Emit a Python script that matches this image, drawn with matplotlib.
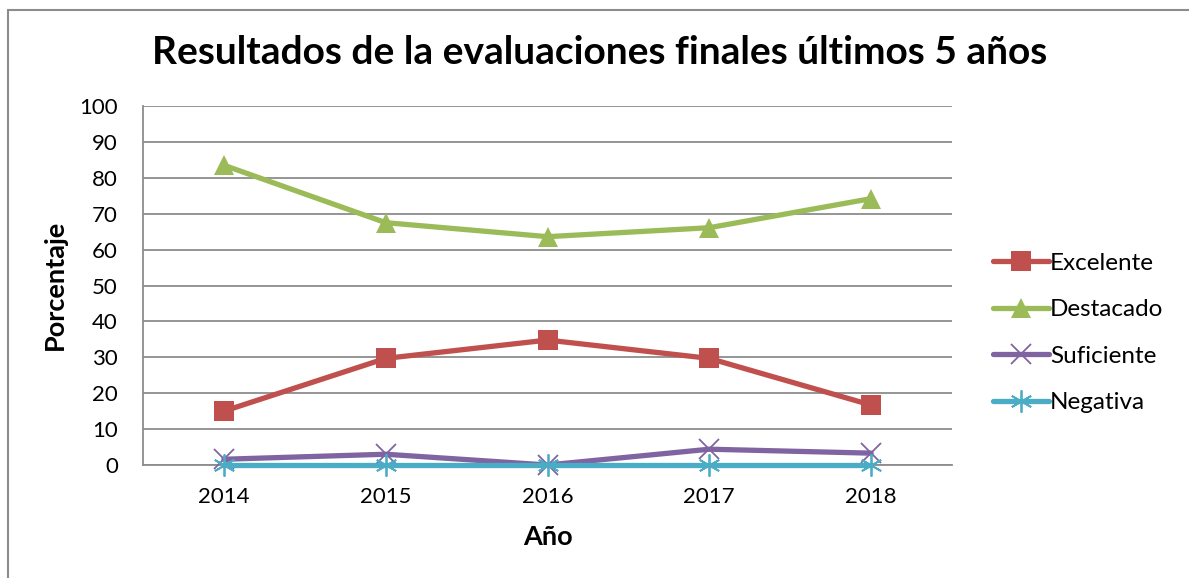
import matplotlib
matplotlib.use('Agg')
import matplotlib.pyplot as plt
from matplotlib.patches import Rectangle

plt.rcParams['font.family'] = ['Lato', 'DejaVu Sans']

# data
years = ['2014', '2015', '2016', '2017', '2018']
excelente = [15.0, 29.7, 34.8, 29.7, 16.7]
destacado = [83.5, 67.5, 63.6, 66.1, 74.2]
suficiente = [1.6, 3.0, 0.0, 4.4, 3.3]
negativa = [0.0, 0.0, 0.0, 0.0, 0.0]
y_ticks = list(range(0, 101, 10))

W, H, DPI = 1189, 578, 100
fig = plt.figure(figsize=(W / DPI, H / DPI), dpi=DPI)
ax = fig.add_axes([143 / W, 1 - 465 / H, (952 - 143) / W, (465 - 106) / H])

# outer chart border (runs off right/bottom edge like the reference)
fig.patches.append(Rectangle((7.5 / W, -0.1), 1.2, 1.1 - 9.5 / H,
                             transform=fig.transFigure, fill=False,
                             edgecolor='#8c8c8c', lw=1.5, clip_on=False))

x = list(range(len(years)))
series = [
    ('Excelente', excelente, '#C0504D', 's', 14),
    ('Destacado', destacado, '#9BBB59', '^', 15),
    ('Suficiente', suficiente, '#8064A2', 'x', 14),
    ('Negativa', negativa, '#4BACC6', (6, 2, 0), 16),
]
for name, vals, color, marker, ms in series:
    kw = dict(markeredgewidth=1.3) if marker not in ('s', '^') else dict(markeredgewidth=0)
    ax.plot(x, vals, color=color, lw=3.8, marker=marker, markersize=ms,
            markerfacecolor=color, markeredgecolor=color, label=name,
            solid_capstyle='round', clip_on=False, zorder=3, **kw)

ax.set_xlim(-0.5, len(years) - 0.5)
ax.set_ylim(0, 100)
ax.set_xticks(x)
ax.set_xticklabels(years)
ax.set_yticks(y_ticks)
ax.tick_params(length=0, labelsize=16)
ax.tick_params(axis='x', pad=16)
ax.tick_params(axis='y', pad=18)
ax.yaxis.grid(True, color='#8c8c8c', lw=1.3)
ax.set_axisbelow(True)
for side in ('top', 'right'):
    ax.spines[side].set_visible(False)
for side in ('left', 'bottom'):
    ax.spines[side].set_color('#8c8c8c')
    ax.spines[side].set_linewidth(1.3)

fig.text(600 / W, 1 - 52 / H, 'Resultados de la evaluaciones finales últimos 5 años',
         ha='center', va='center', fontsize=28, fontweight='bold')
fig.text(55 / W, 1 - 285 / H, 'Porcentaje', rotation=90, ha='center', va='center',
         fontsize=19.5, fontweight='bold')
fig.text(548 / W, 1 - 537 / H, 'Año', ha='center', va='center',
         fontsize=19.5, fontweight='bold')

leg = fig.legend(loc='center left', bbox_to_anchor=(983 / W, 1 - 333 / H),
                 frameon=False, fontsize=17.5, handlelength=2.3, handletextpad=0.05,
                 labelspacing=1.05, borderaxespad=0)

fig.savefig('out.png', dpi=DPI)
